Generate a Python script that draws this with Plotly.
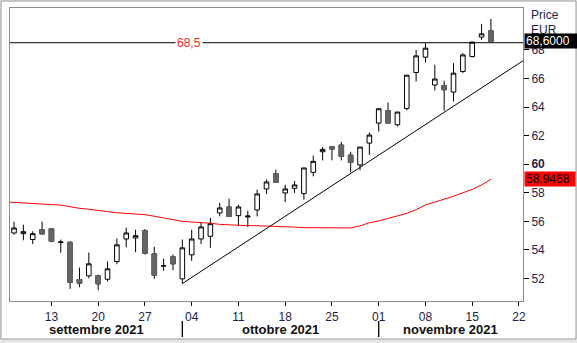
import plotly.graph_objects as go
import pandas as pd

# ---------------- data ----------------
dates = ["2021-09-07", "2021-09-08", "2021-09-09", "2021-09-10",
         "2021-09-13", "2021-09-14", "2021-09-15", "2021-09-16", "2021-09-17",
         "2021-09-20", "2021-09-21", "2021-09-22", "2021-09-23", "2021-09-24",
         "2021-09-27", "2021-09-28", "2021-09-29", "2021-09-30", "2021-10-01",
         "2021-10-04", "2021-10-05", "2021-10-06", "2021-10-07", "2021-10-08",
         "2021-10-11", "2021-10-12", "2021-10-13", "2021-10-14", "2021-10-15",
         "2021-10-18", "2021-10-19", "2021-10-20", "2021-10-21", "2021-10-22",
         "2021-10-25", "2021-10-26", "2021-10-27", "2021-10-28", "2021-10-29",
         "2021-11-01", "2021-11-02", "2021-11-03", "2021-11-04", "2021-11-05",
         "2021-11-08", "2021-11-09", "2021-11-10", "2021-11-11", "2021-11-12",
         "2021-11-15", "2021-11-16", "2021-11-17"]
opens = [55.19, 55.14, 54.73, 55.42,
         55.49, 54.52, 54.54, 51.93, 52.19,
         52.21, 51.95, 53.19, 54.77, 54.84,
         55.35, 53.73, 52.87, 53.52, 51.98,
         53.66, 54.77, 54.96, 56.59, 57.01,
         56.40, 56.31, 56.80, 58.27, 59.34,
         57.99, 58.31, 57.94, 59.43, 60.87,
         61.22, 61.34, 60.64, 59.95, 61.48,
         62.88, 63.74, 62.76, 63.90, 66.42,
         67.49, 65.54, 65.51, 65.05, 66.49,
         67.53, 68.89, 69.33]
highs = [55.98, 55.77, 55.31, 55.98,
         55.49, 54.73, 54.59, 52.77, 53.82,
         52.28, 53.19, 54.80, 55.56, 55.42,
         55.47, 54.22, 53.40, 53.68, 54.73,
         55.42, 55.96, 56.24, 57.29, 57.59,
         57.15, 56.75, 58.22, 58.92, 59.62,
         58.57, 58.83, 59.74, 60.60, 61.20,
         61.22, 61.57, 60.87, 61.20, 62.22,
         63.90, 64.32, 63.65, 66.23, 68.00,
         68.47, 66.96, 65.84, 67.07, 67.77,
         68.58, 69.82, 70.17]
lows = [55.07, 54.68, 54.42, 55.12,
        54.54, 53.80, 51.28, 51.39, 52.02,
        51.18, 51.79, 53.00, 54.19, 53.84,
        53.68, 51.98, 52.54, 52.58, 51.65,
        53.24, 54.42, 54.15, 56.35, 56.35,
        55.72, 55.61, 56.35, 57.92, 58.73,
        57.36, 57.99, 57.52, 59.15, 60.27,
        60.27, 60.27, 59.43, 59.57, 60.66,
        62.29, 62.88, 62.64, 63.76, 65.79,
        67.12, 65.16, 63.74, 64.39, 66.37,
        67.47, 68.70, 68.60]
closes = [55.54, 55.28, 55.14, 55.12,
          54.61, 54.56, 51.74, 51.67, 53.03,
          51.63, 52.68, 54.36, 55.19, 55.00,
          53.77, 52.23, 52.91, 53.03, 54.15,
          54.77, 55.61, 55.84, 56.94, 56.35,
          57.01, 56.37, 57.92, 58.76, 58.73,
          58.27, 58.55, 59.74, 60.20, 61.04,
          61.06, 60.55, 60.13, 61.20, 62.04,
          63.88, 62.88, 63.65, 66.23, 67.58,
          68.12, 65.96, 65.21, 66.37, 67.65,
          68.54, 69.12, 68.60]

ma_dates = ["2021-09-06"] + dates
ma_values = [57.37,
             57.33, 57.28, 57.24, 57.22,
             57.19, 57.14, 57.03, 56.91, 56.85,
             56.75, 56.65, 56.60, 56.56, 56.53,
             56.47, 56.36, 56.22, 56.12, 56.00,
             55.96, 55.93, 55.87, 55.79, 55.75,
             55.72, 55.70, 55.70, 55.68, 55.68,
             55.65, 55.60, 55.56, 55.55, 55.54,
             55.54, 55.54, 55.54, 55.68, 55.91,
             56.03, 56.20, 56.37, 56.56, 56.82,
             57.15, 57.35, 57.54, 57.76, 58.00,
             58.24, 58.55, 58.9468]

trend_dates = ["2021-10-01", "2021-11-24"]
trend_values = [51.65, 67.91]

hline_value = 68.5
hline_label = "68,5"
last_price_label = "68,6000"
last_ma_label = "58,9468"

y_ticks = [52, 54, 56, 58, 60, 62, 64, 66, 68]
x_tick_dates = ["2021-09-13", "2021-09-20", "2021-09-27", "2021-10-04",
                "2021-10-11", "2021-10-18", "2021-10-25", "2021-11-01",
                "2021-11-08", "2021-11-15", "2021-11-22"]
x_tick_labels = ["13", "20", "27", "04", "11", "18", "25", "01", "08", "15", "22"]
month_labels = ["settembre 2021", "ottobre 2021", "novembre 2021"]
month_starts = ["2021-10-01", "2021-11-01"]

# ---------------- trading-day index axis ----------------
cal = pd.bdate_range("2021-09-06", "2021-11-30")
pos = {d.strftime("%Y-%m-%d"): i - 1 for i, d in enumerate(cal)}
X = lambda lst: [pos[d] for d in lst]

x = X(dates)
xmin, xmax = -0.43, 54.43
ymin, ymax = 50.43, 70.93

FONT = "Liberation Sans, Arial, sans-serif"
TXT = "#1c2448"
GRAY = "#646464"

fig = go.Figure()

# all candles: black outlines & wicks
fig.add_trace(go.Candlestick(
    x=x, open=opens, high=highs, low=lows, close=closes,
    increasing=dict(line=dict(color="black", width=1), fillcolor="white"),
    decreasing=dict(line=dict(color="black", width=1), fillcolor=GRAY),
    whiskerwidth=0, showlegend=False, hoverinfo="skip"))

# gray bodies over the falling candles (no black border)
dn_x = [xi for xi, o, c in zip(x, opens, closes) if c < o]
dn_o = [o for o, c in zip(opens, closes) if c < o]
dn_c = [c for o, c in zip(opens, closes) if c < o]
fig.add_trace(go.Candlestick(
    x=dn_x, open=dn_o, high=dn_o, low=dn_c, close=dn_c,
    increasing=dict(line=dict(color=GRAY, width=1), fillcolor=GRAY),
    decreasing=dict(line=dict(color=GRAY, width=1), fillcolor=GRAY),
    whiskerwidth=0, showlegend=False, hoverinfo="skip"))

# moving average
fig.add_trace(go.Scatter(x=X(ma_dates), y=ma_values, mode="lines",
                         line=dict(color="#ff0000", width=1),
                         showlegend=False, hoverinfo="skip"))
# trend line
fig.add_trace(go.Scatter(x=X(trend_dates), y=trend_values, mode="lines",
                         line=dict(color="black", width=1),
                         showlegend=False, hoverinfo="skip"))

# horizontal 68.5 level
fig.add_shape(type="line", xref="paper", yref="y", x0=0, x1=1,
              y0=hline_value, y1=hline_value, line=dict(color="black", width=1))

# frame around the whole picture
W, H = 577, 343
L, R, T, B = 10, 54, 8, 42
pw, ph = W - L - R, H - T - B
px = lambda p: (p - L) / pw
py = lambda p: (H - B - p) / ph
fig.add_shape(type="rect", xref="paper", yref="paper", layer="below",
              x0=px(1), x1=px(576), y0=py(1), y1=py(339),
              line=dict(color="#9a9a9a", width=1), fillcolor="white")

# month separators
for d in month_starts:
    fig.add_shape(type="line", xref="x", yref="paper", x0=pos[d], x1=pos[d],
                  y0=py(321), y1=py(337), line=dict(color="black", width=1.3))

# month labels
bounds = [xmin] + [pos[d] for d in month_starts] + [xmax]
annotations = []
for i, m in enumerate(month_labels):
    annotations.append(dict(x=(bounds[i] + bounds[i + 1]) / 2, xref="x",
                            y=py(329), yref="paper", text="<b>%s</b>" % m,
                            showarrow=False, xanchor="center", yanchor="middle",
                            font=dict(family=FONT, size=13, color="#111111")))

annotations += [
    dict(x=px(189), xref="paper", y=hline_value, yref="y", text=hline_label,
         showarrow=False, bgcolor="white", borderpad=1,
         font=dict(family=FONT, size=12, color="#ff2a2a")),
    dict(x=1, xref="paper", xshift=6, y=py(15), yref="paper", text="Price",
         showarrow=False, xanchor="left", yanchor="middle",
         font=dict(family=FONT, size=12, color=TXT)),
    dict(x=1, xref="paper", xshift=6, y=py(30), yref="paper", text="EUR",
         showarrow=False, xanchor="left", yanchor="middle",
         font=dict(family=FONT, size=12, color=TXT)),
    dict(x=1, xref="paper", xshift=1, y=closes[-1], yref="y",
         text=last_price_label, showarrow=False, xanchor="left",
         yanchor="middle", bgcolor="black", width=52, height=12, align="left",
         borderpad=1, font=dict(family=FONT, size=12, color="white")),
    dict(x=1, xref="paper", xshift=1, y=ma_values[-1], yref="y",
         text=last_ma_label, showarrow=False, xanchor="left",
         yanchor="middle", bgcolor="#ff0000", width=48, height=12,
         align="left", borderpad=1,
         font=dict(family=FONT, size=12, color="black")),
]

ytext = ["<b>%d</b>" % v if v == 60 else str(v) for v in y_ticks]

fig.update_layout(
    width=W, height=H,
    margin=dict(l=L, r=R, t=T, b=B),
    paper_bgcolor="#e6e6e6", plot_bgcolor="white",
    font=dict(family=FONT, size=12, color=TXT),
    showlegend=False,
    annotations=annotations,
    xaxis=dict(range=[xmin, xmax], tickmode="array",
               tickvals=X(x_tick_dates), ticktext=x_tick_labels,
               ticks="outside", ticklen=4, tickcolor="black",
               ticklabelstandoff=1,
               showgrid=False, zeroline=False,
               showline=True, linecolor="#8a8a96", linewidth=1, mirror=True,
               rangeslider=dict(visible=False),
               tickfont=dict(family=FONT, size=12, color=TXT)),
    yaxis=dict(range=[ymin, ymax], side="right", tickmode="array",
               tickvals=y_ticks, ticktext=ytext,
               ticks="outside", ticklen=5, tickcolor="black",
               showgrid=False, zeroline=False,
               showline=True, linecolor="#8a8a96", linewidth=1, mirror=True,
               tickfont=dict(family=FONT, size=12, color=TXT)),
)

fig.write_html("out.html")
